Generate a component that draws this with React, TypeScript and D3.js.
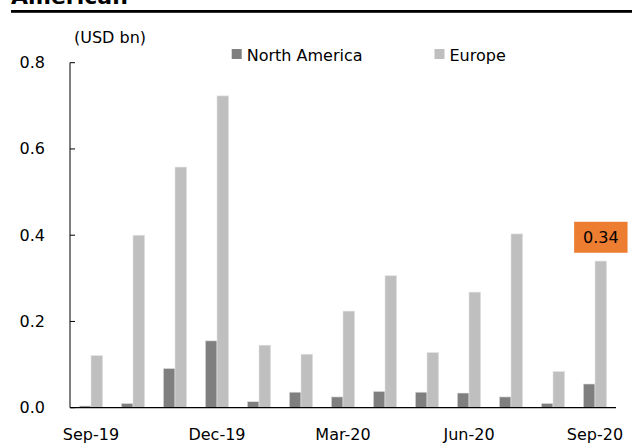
import React from "react";
import * as d3 from "d3";

const months = [
  "Sep-19", "Oct-19", "Nov-19", "Dec-19", "Jan-20", "Feb-20", "Mar-20",
  "Apr-20", "May-20", "Jun-20", "Jul-20", "Aug-20", "Sep-20",
];
const northAmerica = [0.004, 0.01, 0.091, 0.155, 0.014, 0.036, 0.025, 0.038, 0.036, 0.034, 0.025, 0.01, 0.055];
const europe = [0.121, 0.4, 0.558, 0.723, 0.145, 0.124, 0.224, 0.306, 0.128, 0.268, 0.403, 0.084, 0.34];
const seriesNames = ["North America", "Europe"];
const seriesColors = ["#7f7f7f", "#bfbfbf"];
const yTicks = [0, 0.2, 0.4, 0.6, 0.8];
const xTickLabels = ["Sep-19", "Dec-19", "Mar-20", "Jun-20", "Sep-20"];
const highlightIndex = 12;

const W = 632;
const H = 447;
const FONT = "'DejaVu Sans', Verdana, sans-serif";

export default function App() {
  const x = d3.scaleBand<string>().domain(months).range([70, 616]).padding(0);
  const y = d3.scaleLinear().domain([0, 0.8]).range([407.7, 62.7]);
  const barW = 11.7;
  const xs = d3
    .scaleBand<string>()
    .domain(seriesNames)
    .range([x.bandwidth() / 2 - barW, x.bandwidth() / 2 + barW]);
  const values = [northAmerica, europe];

  const hx = (x(months[highlightIndex]) ?? 0) + (xs("Europe") ?? 0) + xs.bandwidth() / 2;
  const hy = y(europe[highlightIndex]);

  return (
    <svg
      width={W}
      height={H}
      style={{ position: "absolute", left: 0, top: 0, background: "#fff" }}
      fontFamily={FONT}
    >
      {/* heading (scrolled partly out of view) */}
      <text x={11} y={3.5} fontSize={22} fontWeight="bold" fill="#000">
        American
      </text>
      <rect x={11} y={10} width={W - 11} height={2.8} fill="#000" />

      <text x={74} y={42.5} fontSize={16} fill="#000">
        (USD bn)
      </text>

      {/* legend */}
      {seriesNames.map((s, i) => {
        const lx = i === 0 ? 231.7 : 434.5;
        return (
          <g key={s}>
            <rect x={lx} y={49} width={10} height={10} fill={seriesColors[i]} />
            <text x={lx + 15} y={60.5} fontSize={16} fill="#000">
              {s}
            </text>
          </g>
        );
      })}

      {/* bars */}
      {months.map((m, mi) => (
        <g key={m} transform={`translate(${x(m)},0)`}>
          {seriesNames.map((s, si) => {
            const v = values[si][mi];
            return (
              <rect
                key={s}
                x={xs(s)}
                y={y(v)}
                width={xs.bandwidth()}
                height={y(0) - y(v)}
                fill={seriesColors[si]}
                stroke="#e4e4e4"
                strokeWidth={0.6}
              />
            );
          })}
        </g>
      ))}

      {/* y axis */}
      <line x1={70} x2={70} y1={y(0.8)} y2={y(0)} stroke="#000" strokeWidth={1} />
      {yTicks.map((t) => (
        <g key={t}>
          <line x1={70} x2={75} y1={y(t)} y2={y(t)} stroke="#000" strokeWidth={1} />
          <text
            x={45}
            y={y(t)}
            fontSize={16}
            textAnchor="end"
            dominantBaseline="central"
            fill="#000"
          >
            {t.toFixed(1)}
          </text>
        </g>
      ))}

      {/* x axis */}
      <line x1={70} x2={616} y1={y(0)} y2={y(0)} stroke="#000" strokeWidth={1.2} />
      {xTickLabels.map((m) => (
        <text
          key={m}
          x={(x(m) ?? 0) + x.bandwidth() / 2}
          y={440}
          fontSize={16}
          textAnchor="middle"
          fill="#000"
        >
          {m}
        </text>
      ))}

      {/* value callout */}
      <rect x={hx - 26.7} y={hy - 39.3} width={53.4} height={31} fill="#ed7d31" />
      <text
        x={hx}
        y={hy - 23.8}
        fontSize={16}
        textAnchor="middle"
        dominantBaseline="central"
        fill="#000"
      >
        {europe[highlightIndex].toFixed(2)}
      </text>
    </svg>
  );
}
